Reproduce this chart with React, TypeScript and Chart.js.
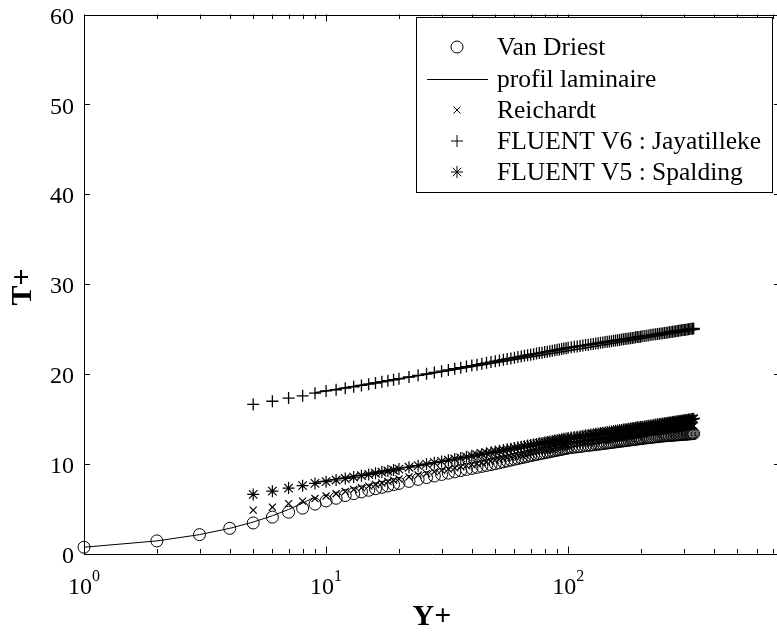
import React, { useEffect, useRef } from "react";
import { Chart, registerables } from "chart.js";

Chart.register(...registerables);

// ---------------- data ----------------
const Y_PLUS = [
  1, 2, 3, 4, 5, 6, 7, 8, 9, 10, 11, 12, 13, 14, 15, 16, 17, 18, 19, 20,
  22, 24, 26, 28, 30, 32, 34, 36, 38, 40,
  42, 44, 46, 48, 50, 52, 54, 56, 58, 60, 62, 64, 66, 68, 70, 72, 74, 76, 78, 80,
  82, 84, 86, 88, 90, 92, 94, 96, 98, 100,
  103, 106, 109, 112, 115, 118, 121, 124, 127, 130, 133, 136, 139, 142, 145, 148,
  151, 154, 157, 160, 163, 166, 169, 172, 175, 178, 181, 184, 187, 190, 193, 196, 199, 202,
  206, 210, 214, 218, 222, 226, 230, 234, 238, 242, 246, 250, 254, 258, 262, 266,
  270, 274, 278, 282, 286, 290, 294, 298, 302, 306, 310, 314, 318, 322, 326, 330,
];

const VAN_DRIEST = [
  0.7, 1.4, 2.1, 2.8, 3.4, 4.05, 4.6, 5.05, 5.5, 5.85, 6.15, 6.45,
  6.66, 6.86, 7.04, 7.21, 7.37, 7.52, 7.67, 7.8,
  8.03, 8.25, 8.45, 8.63, 8.8, 8.95, 9.09, 9.23, 9.36, 9.48,
  9.59, 9.7, 9.8, 9.9, 10.0, 10.1, 10.21, 10.3, 10.4, 10.49, 10.58, 10.66, 10.74, 10.82, 10.9,
  10.97, 11.03, 11.1, 11.16, 11.22, 11.28, 11.33, 11.39, 11.45, 11.5, 11.55, 11.6, 11.65, 11.7, 11.75,
  11.79, 11.84, 11.88, 11.92, 11.96, 12.0, 12.03, 12.07, 12.1, 12.14, 12.17, 12.2, 12.24, 12.27, 12.3, 12.33,
  12.36, 12.39, 12.42, 12.45, 12.48, 12.51, 12.54, 12.56, 12.59, 12.62, 12.64, 12.67, 12.69, 12.72, 12.74, 12.77, 12.79, 12.81,
  12.84, 12.87, 12.89, 12.92, 12.94, 12.97, 12.99, 13.01, 13.03, 13.06, 13.08, 13.1, 13.11, 13.13, 13.14, 13.16,
  13.17, 13.18, 13.2, 13.21, 13.22, 13.23, 13.25, 13.26, 13.27, 13.28, 13.29, 13.31, 13.32, 13.33, 13.34, 13.35,
];

const REICHARDT = [
  null, null, null, null,
  4.83, 5.15, 5.55, 5.83, 6.12, 6.4, 6.65, 6.9,
  7.12, 7.31, 7.5, 7.68, 7.85, 8.01, 8.16, 8.3,
  8.52, 8.73, 8.91, 9.09, 9.25, 9.4, 9.53, 9.66, 9.78, 9.9,
  10.01, 10.11, 10.21, 10.31, 10.4, 10.49, 10.58, 10.66, 10.74, 10.82, 10.9, 10.97, 11.04, 11.11, 11.18,
  11.24, 11.31, 11.37, 11.43, 11.49, 11.54, 11.6, 11.65, 11.71, 11.76, 11.81, 11.86, 11.91, 11.95, 12.0,
  12.06, 12.11, 12.16, 12.21, 12.26, 12.31, 12.36, 12.4, 12.45, 12.49, 12.54, 12.58, 12.62, 12.66, 12.7, 12.74,
  12.77, 12.81, 12.85, 12.88, 12.92, 12.95, 12.99, 13.02, 13.05, 13.08, 13.11, 13.14, 13.17, 13.2, 13.23, 13.26, 13.29, 13.32,
  13.35, 13.39, 13.42, 13.46, 13.49, 13.52, 13.55, 13.58, 13.61, 13.64, 13.67, 13.7, 13.73, 13.76, 13.79, 13.81,
  13.84, 13.87, 13.89, 13.92, 13.94, 13.97, 13.99, 14.02, 14.04, 14.06, 14.09, 14.11, 14.13, 14.16, 14.18, 14.2,
];

const JAYATILLEKE = [
  null, null, null, null,
  16.6, 16.95, 17.3, 17.55, 17.85, 18.1, 18.23, 18.4,
  18.56, 18.71, 18.85, 18.98, 19.11, 19.23, 19.34, 19.45,
  19.65, 19.83, 20.0, 20.16, 20.3, 20.44, 20.57, 20.69, 20.81, 20.92,
  21.02, 21.13, 21.22, 21.31, 21.4, 21.49, 21.57, 21.65, 21.72, 21.79, 21.87, 21.93, 22.0, 22.07, 22.13,
  22.19, 22.25, 22.31, 22.36, 22.42, 22.47, 22.52, 22.57, 22.62, 22.67, 22.72, 22.77, 22.81, 22.86, 22.9,
  22.95, 23.01, 23.05, 23.1, 23.15, 23.2, 23.24, 23.29, 23.33, 23.37, 23.41, 23.45, 23.49, 23.53, 23.57, 23.61,
  23.64, 23.68, 23.71, 23.75, 23.78, 23.81, 23.85, 23.88, 23.91, 23.94, 23.97, 24.0, 24.03, 24.06, 24.09, 24.11, 24.14, 24.17,
  24.2, 24.24, 24.27, 24.31, 24.34, 24.37, 24.4, 24.43, 24.46, 24.49, 24.52, 24.55, 24.58, 24.61, 24.64, 24.66,
  24.69, 24.72, 24.74, 24.77, 24.79, 24.82, 24.84, 24.87, 24.89, 24.91, 24.94, 24.96, 24.98, 25.01, 25.03, 25.05,
];

const SPALDING = [
  null, null, null, null,
  6.58, 6.94, 7.28, 7.55, 7.8, 8.0, 8.18, 8.35,
  8.51, 8.66, 8.8, 8.93, 9.06, 9.18, 9.29, 9.4,
  9.6, 9.78, 9.95, 10.11, 10.25, 10.39, 10.52, 10.64, 10.76, 10.87,
  10.97, 11.08, 11.17, 11.26, 11.35, 11.44, 11.52, 11.6, 11.67, 11.74, 11.82, 11.88, 11.95, 12.02, 12.08,
  12.14, 12.2, 12.26, 12.31, 12.37, 12.42, 12.47, 12.52, 12.57, 12.62, 12.67, 12.72, 12.76, 12.81, 12.85,
  12.9, 12.96, 13.0, 13.05, 13.1, 13.15, 13.19, 13.24, 13.28, 13.32, 13.36, 13.4, 13.44, 13.48, 13.52, 13.56,
  13.59, 13.63, 13.66, 13.7, 13.73, 13.76, 13.8, 13.83, 13.86, 13.89, 13.92, 13.95, 13.98, 14.01, 14.04, 14.06, 14.09, 14.12,
  14.15, 14.19, 14.22, 14.26, 14.29, 14.32, 14.35, 14.38, 14.41, 14.44, 14.47, 14.5, 14.53, 14.56, 14.59, 14.61,
  14.64, 14.67, 14.69, 14.72, 14.74, 14.77, 14.79, 14.82, 14.84, 14.86, 14.89, 14.91, 14.93, 14.96, 14.98, 15.0,
];

const LAMINAR_X = [1, 2, 3, 4, 5, 6, 7, 8, 9];
const LAMINAR_T = [0.7, 1.4, 2.1, 2.8, 3.5, 4.2, 4.9, 5.6, 6.3];

const LOGLAW_X = [9, 350];
const LOGLAW_V6 = [17.9, 25.0];
const LOGLAW_V5 = [7.9, 15.05];

const Y_TICKS = [0, 10, 20, 30, 40, 50, 60];
const X_MAJOR = [1, 10, 100];
const X_EXPONENTS = ["0", "1", "2"];
const X_MINOR = [2, 3, 4, 5, 6, 7, 8, 9, 20, 30, 40, 50, 60, 70, 80, 90, 200, 300, 400, 500, 600, 700];

const LABELS = [
  "Van Driest",
  "profil laminaire",
  "Reichardt",
  "FLUENT V6 : Jayatilleke",
  "FLUENT V5 : Spalding",
];

const X_TITLE = "Y+";
const Y_TITLE = "T+";

// ---------------- helpers ----------------
const FONT = '"Liberation Serif", "Times New Roman", serif';

function pairs(xs: number[], ys: (number | null)[]) {
  const out: { x: number; y: number }[] = [];
  xs.forEach((x, i) => {
    const y = ys[i];
    if (y !== null && y !== undefined) out.push({ x, y });
  });
  return out;
}

function drawMarker(ctx: CanvasRenderingContext2D, style: string, x: number, y: number, r: number) {
  ctx.beginPath();
  if (style === "circle") {
    ctx.arc(x, y, r, 0, Math.PI * 2);
  } else if (style === "cross" || style === "star") {
    ctx.moveTo(x - r, y);
    ctx.lineTo(x + r, y);
    ctx.moveTo(x, y - r);
    ctx.lineTo(x, y + r);
  }
  if (style === "crossRot" || style === "star") {
    const d = r * Math.SQRT1_2;
    ctx.moveTo(x - d, y - d);
    ctx.lineTo(x + d, y + d);
    ctx.moveTo(x - d, y + d);
    ctx.lineTo(x + d, y - d);
  }
  ctx.stroke();
}

const matlabPlugin = {
  id: "matlabAxes",
  afterDraw(chart: any) {
    const { ctx, chartArea: a, scales } = chart;
    const xs = scales.x;
    const ys = scales.y;
    ctx.save();
    ctx.strokeStyle = "#000";
    ctx.fillStyle = "#000";
    ctx.lineWidth = 1;

    // box
    ctx.beginPath();
    ctx.rect(Math.round(a.left) + 0.5, Math.round(a.top) + 0.5, Math.round(a.right - a.left), Math.round(a.bottom - a.top));
    ctx.stroke();

    // y ticks
    ctx.font = `24px ${FONT}`;
    ctx.textAlign = "right";
    ctx.textBaseline = "middle";
    Y_TICKS.forEach((v) => {
      const py = Math.round(ys.getPixelForValue(v)) + 0.5;
      ctx.beginPath();
      ctx.moveTo(a.left, py);
      ctx.lineTo(a.left + 6, py);
      ctx.moveTo(a.right, py);
      ctx.lineTo(a.right - 6, py);
      ctx.stroke();
      ctx.fillText(String(v), a.left - 10, ys.getPixelForValue(v) + 3);
    });

    // x ticks
    const tick = (v: number, len: number) => {
      const px = Math.round(xs.getPixelForValue(v)) + 0.5;
      ctx.beginPath();
      ctx.moveTo(px, a.bottom);
      ctx.lineTo(px, a.bottom - len);
      ctx.moveTo(px, a.top);
      ctx.lineTo(px, a.top + len);
      ctx.stroke();
    };
    X_MINOR.forEach((v) => tick(v, 4.5));
    X_MAJOR.forEach((v) => tick(v, 7));

    // x labels 10^n
    ctx.textAlign = "left";
    ctx.textBaseline = "alphabetic";
    X_MAJOR.forEach((v, i) => {
      const px = xs.getPixelForValue(v);
      ctx.font = `24px ${FONT}`;
      const wb = ctx.measureText("10").width;
      ctx.font = `16px ${FONT}`;
      const we = ctx.measureText(X_EXPONENTS[i]).width;
      const start = px - (wb + we) / 2;
      ctx.font = `24px ${FONT}`;
      ctx.fillText("10", start, 594);
      ctx.font = `16px ${FONT}`;
      ctx.fillText(X_EXPONENTS[i], start + wb, 581);
    });

    // axis titles
    ctx.font = `bold 30px ${FONT}`;
    ctx.textAlign = "center";
    ctx.fillText(X_TITLE, (a.left + a.right) / 2, 625);
    ctx.save();
    ctx.translate(31, (a.top + a.bottom) / 2 + 3);
    ctx.rotate(-Math.PI / 2);
    ctx.fillText(Y_TITLE, 0, 0);
    ctx.restore();

    // legend
    const bx = 416.5, by = 17.5, bw = 356, bh = 175;
    ctx.fillStyle = "#fff";
    ctx.fillRect(bx, by, bw, bh);
    ctx.strokeRect(bx, by, bw, bh);
    ctx.fillStyle = "#000";
    ctx.font = `25.5px ${FONT}`;
    ctx.textAlign = "left";
    ctx.textBaseline = "middle";
    const rowY = [47, 79, 110, 141, 172];
    const items = [
      { ds: 0, kind: "marker" },
      { ds: 1, kind: "line" },
      { ds: 2, kind: "marker" },
      { ds: 3, kind: "marker" },
      { ds: 4, kind: "marker" },
    ];
    items.forEach((it, i) => {
      const dsObj = chart.data.datasets[it.ds];
      const cy = rowY[i];
      ctx.lineWidth = 1;
      if (it.kind === "line") {
        ctx.beginPath();
        ctx.moveTo(427, cy + 0.5);
        ctx.lineTo(488, cy + 0.5);
        ctx.stroke();
      } else {
        drawMarker(ctx, dsObj.pointStyle, 457, cy, dsObj.pointRadius);
      }
      ctx.fillText(LABELS[i], 497, cy + 1);
    });

    ctx.restore();
  },
};

export default function App() {
  const canvasRef = useRef<HTMLCanvasElement | null>(null);

  useEffect(() => {
    if (!canvasRef.current) return;
    const common = {
      borderColor: "#000",
      backgroundColor: "rgba(0,0,0,0)",
      pointBorderColor: "#000",
      pointBackgroundColor: "rgba(0,0,0,0)",
      pointBorderWidth: 1,
      borderWidth: 1,
      clip: false as any,
    };
    const chart = new Chart(canvasRef.current, {
      type: "scatter",
      data: {
        datasets: [
          { ...common, label: LABELS[0], data: pairs(Y_PLUS, VAN_DRIEST), pointStyle: "circle", pointRadius: 6, showLine: false },
          { ...common, label: LABELS[1], data: pairs(LAMINAR_X, LAMINAR_T), pointRadius: 0, showLine: true, borderWidth: 1 },
          { ...common, label: LABELS[2], data: pairs(Y_PLUS, REICHARDT), pointStyle: "crossRot", pointRadius: 5, pointBorderWidth: 1.2, showLine: false },
          { ...common, label: LABELS[3], data: pairs(Y_PLUS, JAYATILLEKE), pointStyle: "cross", pointRadius: 6, pointBorderWidth: 1.3, showLine: false },
          { ...common, label: LABELS[4], data: pairs(Y_PLUS, SPALDING), pointStyle: "star", pointRadius: 6, pointBorderWidth: 1.2, showLine: false },
          { ...common, label: "loglaw6", data: pairs(LOGLAW_X, LOGLAW_V6), pointRadius: 0, showLine: true, borderWidth: 1.5 },
          { ...common, label: "loglaw5", data: pairs(LOGLAW_X, LOGLAW_V5), pointRadius: 0, showLine: true, borderWidth: 1.5 },
        ] as any,
      },
      options: {
        responsive: false,
        maintainAspectRatio: false,
        animation: false,
        devicePixelRatio: 1,
        layout: { padding: { left: 84, right: 20, top: 14.5, bottom: 80.5 } },
        scales: {
          x: { type: "logarithmic", min: 1, max: 750, display: false },
          y: { type: "linear", min: 0, max: 60, display: false },
        },
        plugins: {
          legend: { display: false },
          tooltip: { enabled: false },
        },
        elements: { line: { tension: 0 } },
      } as any,
      plugins: [matlabPlugin],
    });
    return () => chart.destroy();
  }, []);

  return (
    <div
      style={{
        position: "fixed",
        left: 0,
        top: 0,
        width: 777,
        height: 634,
        overflow: "hidden",
        background: "#fff",
      }}
    >
      <canvas ref={canvasRef} width={800} height={634} style={{ display: "block", width: 800, height: 634 }} />
    </div>
  );
}
